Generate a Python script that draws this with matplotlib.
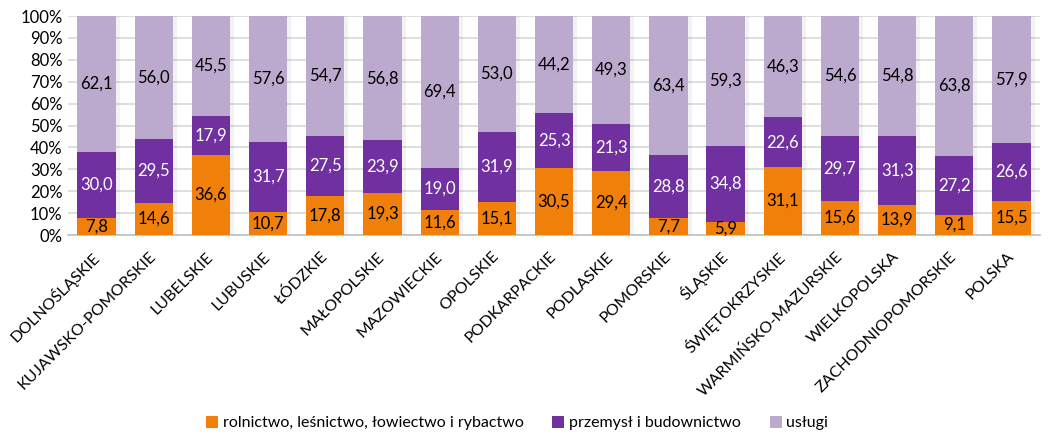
import matplotlib
matplotlib.use("Agg")
import matplotlib.pyplot as plt
import numpy as np

plt.rcParams["font.family"] = ["Lato", "DejaVu Sans"]

regions = [
    "DOLNOŚLĄSKIE", "KUJAWSKO-POMORSKIE", "LUBELSKIE", "LUBUSKIE", "ŁÓDZKIE",
    "MAŁOPOLSKIE", "MAZOWIECKIE", "OPOLSKIE", "PODKARPACKIE", "PODLASKIE",
    "POMORSKIE", "ŚLĄSKIE", "ŚWIĘTOKRZYSKIE", "WARMIŃSKO-MAZURSKIE",
    "WIELKOPOLSKA", "ZACHODNIOPOMORSKIE", "POLSKA",
]
agri = [7.8, 14.6, 36.6, 10.7, 17.8, 19.3, 11.6, 15.1, 30.5, 29.4, 7.7, 5.9, 31.1, 15.6, 13.9, 9.1, 15.5]
industry = [30.0, 29.5, 17.9, 31.7, 27.5, 23.9, 19.0, 31.9, 25.3, 21.3, 28.8, 34.8, 22.6, 29.7, 31.3, 27.2, 26.6]
services = [62.1, 56.0, 45.5, 57.6, 54.7, 56.8, 69.4, 53.0, 44.2, 49.3, 63.4, 59.3, 46.3, 54.6, 54.8, 63.8, 57.9]

series_names = ["rolnictwo, leśnictwo, łowiectwo i rybactwo", "przemysł i budownictwo", "usługi"]
colors = ["#F0800A", "#7030A0", "#BBAACE"]
text_colors = ["black", "white", "black"]


def fmt(v: float) -> str:
    return f"{v:.1f}".replace(".", ",")


fig = plt.figure(figsize=(10.53, 4.34), dpi=100)
ax = fig.add_axes([0.0646, 0.4585, 0.9231, 0.5045])

x = np.arange(len(regions))
data = [np.array(agri), np.array(industry), np.array(services)]
totals = data[0] + data[1] + data[2]
bottom = np.zeros(len(regions))
width = 0.67
for vals, name, col, tcol in zip(data, series_names, colors, text_colors):
    share = vals / totals * 100
    # faint shadow to mimic the Excel bar effect
    ax.bar(x + 0.05, share, width + 0.04, bottom=bottom, color="#000000", alpha=0.05, zorder=2, linewidth=0)
    ax.bar(x, share, width, bottom=bottom, color=col, label=name, zorder=3, linewidth=0)
    for xi, b, s, v in zip(x, bottom, share, vals):
        ax.text(xi, b + s / 2, fmt(v), ha="center", va="center", color=tcol, fontsize=12, zorder=4)
    bottom = bottom + share

ax.set_xlim(-0.5, len(regions) - 0.5)
ax.set_ylim(0, 100)
ax.set_yticks(np.arange(0, 101, 10))
ax.set_yticklabels([f"{v}%" for v in range(0, 101, 10)], fontsize=12)
ax.set_xticks(x)
ax.set_xticklabels(regions, rotation=45, ha="right", va="center", rotation_mode="anchor", fontsize=11.5)
ax.tick_params(axis="both", length=0)
ax.tick_params(axis="x", pad=14)
ax.tick_params(axis="y", pad=4)
ax.grid(axis="y", color="#D9D9D9", linewidth=1.2, zorder=0)
for side in ["top", "right", "left"]:
    ax.spines[side].set_visible(False)
ax.spines["bottom"].set_color("#BFBFBF")
ax.spines["bottom"].set_linewidth(1.2)

fig.legend(
    *ax.get_legend_handles_labels(),
    loc="center", bbox_to_anchor=(0.491, 0.025), ncol=3, frameon=False,
    fontsize=11.5, handlelength=0.75, handleheight=0.75, handletextpad=0.3, columnspacing=1.8,
)

fig.savefig("out.png", dpi=100)
